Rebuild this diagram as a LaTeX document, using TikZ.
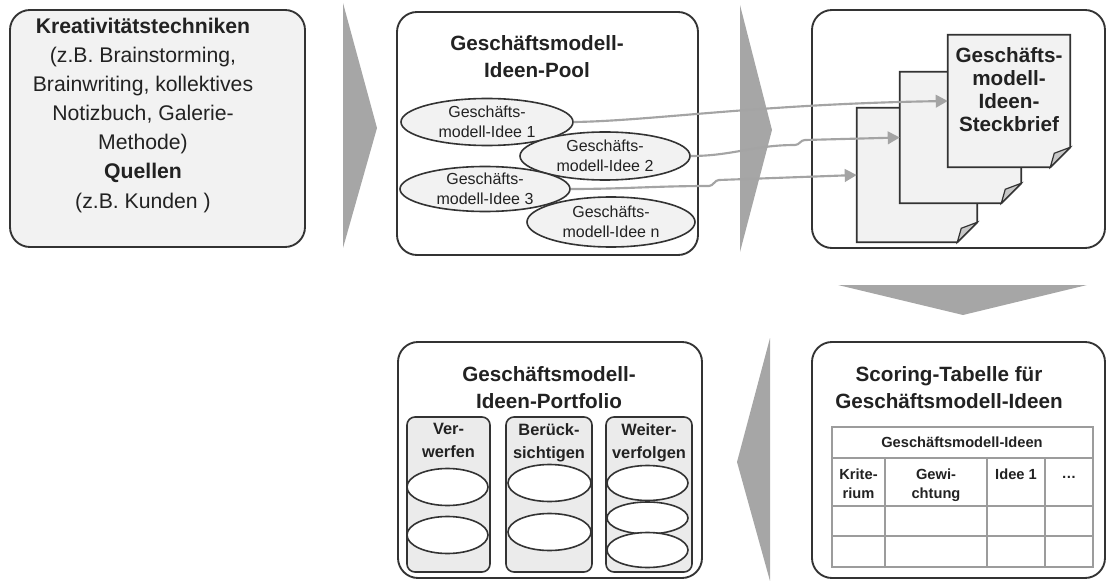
\documentclass[tikz,border=0pt]{standalone}
\usepackage{fontspec}
\setmainfont{Liberation Sans}
\usetikzlibrary{arrows.meta,shapes.geometric}

\def\upx{0.75pt}
\definecolor{edge}{HTML}{333333}
\definecolor{ink}{HTML}{222222}
\definecolor{paper}{HTML}{F2F2F2}
\definecolor{column}{HTML}{EBEBEB}
\definecolor{chev}{HTML}{A6A6A6}
\definecolor{link}{HTML}{A4A4A4}
\definecolor{fold}{HTML}{C8C8C8}
\definecolor{grid}{HTML}{9C9C9C}

% outline of a sheet with a dog-eared lower right corner
\newcommand\sheetoutline[1]{%
  \filldraw[sheetline] (#1.north west) -- (#1.north east)
    -- ([yshift=15pt]#1.south east) -- ([xshift=-15pt]#1.south east)
    -- (#1.south west) -- cycle;
  \filldraw[sheetline, line width=0.9pt, fill=fold] ([yshift=15pt]#1.south east)
    -- ([xshift=-15pt]#1.south east) -- ([xshift=-12pt,yshift=10.5pt]#1.south east) -- cycle;
}

\begin{document}
\begin{tikzpicture}[x=0.75pt,y=-0.75pt,
  every node/.style={text=ink},
  panel/.style={draw=edge, line width=1.4pt, rounded corners=15pt, fill=white, inner sep=0pt},
  chevron/.style={fill=chev, draw=none},
  sheet/.style={draw=none, inner sep=0pt},
  sheetline/.style={draw=edge, line width=1.3pt, fill=paper, line join=miter},
  idea/.style={ellipse, draw=edge, line width=1.2pt, fill=paper, inner sep=0pt, align=center,
    font=\fontsize{12}{15}\selectfont},
  slot/.style={ellipse, draw=edge, line width=1.2pt, fill=white, inner sep=0pt},
  lane/.style={draw=edge, line width=1.2pt, fill=column, rounded corners=6pt, inner sep=0pt},
  link/.style={draw=link, line width=1.6pt, -{Triangle[length=9pt,width=9.5pt]}},
  heading/.style={inner sep=0pt, anchor=north, align=center, font=\bfseries\fontsize{15.5}{20.25}\selectfont},
  lanehead/.style={inner sep=0pt, anchor=north, align=center, font=\bfseries\fontsize{12.3}{17.25}\selectfont},
  cell/.style={inner sep=0pt, align=center, font=\bfseries\fontsize{11}{14.25}\selectfont},
  gridline/.style={draw=grid, line width=1.6pt}
]
\useasboundingbox (0,0) rectangle (1107,581);

% ---------- panels ----------
\node[panel, fill=paper, minimum width=295*\upx, minimum height=237*\upx] (sources) at (157.5,128.5) {};
\node[panel, minimum width=301*\upx, minimum height=243*\upx] (pool) at (547.5,133.5) {};
\node[panel, minimum width=293*\upx, minimum height=238*\upx] (profiles) at (958.5,129) {};
\node[panel, minimum width=293*\upx, minimum height=236*\upx] (scoring) at (958.5,460) {};
\node[panel, minimum width=304*\upx, minimum height=236*\upx] (portfolio) at (550,460) {};

% ---------- process chevrons ----------
\fill[chevron] (343,3) -- (377,128) -- (343,248) -- cycle;
\fill[chevron] (740,5) -- (772,130) -- (740,252) -- cycle;
\fill[chevron] (838,285) -- (1087,285) -- (963,315) -- cycle;
\fill[chevron] (770,338) -- (737,462) -- (770,581) -- cycle;

% ---------- sources ----------
\node[inner sep=0pt, anchor=north, align=center, font=\fontsize{15.9}{21.8}\selectfont] (sourcetext) at (143,18)
  {\textbf{Kreativitätstechniken}\\(z.B. Brainstorming,\\Brainwriting, kollektives\\Notizbuch, Galerie-\\Methode)\\\textbf{Quellen}\\(z.B. Kunden )};

% ---------- idea pool ----------
\node[heading] (pooltitle) at (537,35) {Geschäftsmodell-\\Ideen-Pool};
\node[idea, minimum width=172*\upx, minimum height=47*\upx] (e1) at (487,122) {Geschäfts-\\modell-Idee 1};
\node[idea, minimum width=170*\upx, minimum height=48*\upx] (e2) at (605,156) {Geschäfts-\\modell-Idee 2};
\node[idea, minimum width=170*\upx, minimum height=45*\upx] (e3) at (485,189) {Geschäfts-\\modell-Idee 3};
\node[idea, minimum width=168*\upx, minimum height=50*\upx] (e4) at (611,222) {Geschäfts-\\modell-Idee n};

% ---------- idea profiles ----------
\node[sheet, minimum width=120*\upx, minimum height=134*\upx] (p1) at (917,175) {};
\node[sheet, minimum width=121*\upx, minimum height=131*\upx] (p2) at (960.5,137.5) {};
\node[sheet, minimum width=122*\upx, minimum height=132*\upx] (p3) at (1009,101) {};
\sheetoutline{p1}
\sheetoutline{p2}
\sheetoutline{p3}
\node[inner sep=0pt, anchor=north, align=center, font=\bfseries\fontsize{15.5}{17.2}\selectfont] (sheettext) at (1009,47)
  {Geschäfts-\\modell-\\Ideen-\\Steckbrief};

\draw[link] (e1.east) .. controls (650,121) and (760,104) .. (p3.west);
\draw[link] (e2.east) to[out=0,in=180] (795,145) to[out=0,in=180] (805,140) -- (p2.west);
\draw[link] (e3.east) to[out=0,in=180] (709,186) to[out=0,in=180] (719,180) -- (p1.west);

% ---------- scoring table ----------
\node[heading] (scoretitle) at (949,366) {Scoring-Tabelle für\\Geschäftsmodell-Ideen};
\draw[gridline] (832,427) rectangle (1093,567);
\draw[gridline] (832,458) -- (1093,458) (832,506) -- (1093,506) (832,536) -- (1093,536);
\draw[gridline] (885,458) -- (885,567) (987,458) -- (987,567) (1045,458) -- (1045,567);
\node[cell] (thead) at (962,442) {Geschäftsmodell-Ideen};
\node[cell, anchor=north] (tcrit) at (858.5,469) {Krite-\\rium};
\node[cell, anchor=north] (tweight) at (936,469) {Gewi-\\chtung};
\node[cell, anchor=north] (tidea) at (1016,469) {Idee 1};
\node[cell, anchor=base] (tmore) at (1069,478) {\dots};

% ---------- portfolio ----------
\node[heading] (portfoliotitle) at (549,366) {Geschäftsmodell-\\Ideen-Portfolio};
\node[lane, minimum width=83*\upx, minimum height=155*\upx] (reject) at (448.5,494.5) {};
\node[lane, minimum width=86*\upx, minimum height=155*\upx] (consider) at (549,494.5) {};
\node[lane, minimum width=86*\upx, minimum height=155*\upx] (pursue) at (649,494.5) {};
\node[lanehead] (rejecthead) at (448.5,423) {Ver-\\werfen};
\node[lanehead] (considerhead) at (549,423) {Berück-\\sichtigen};
\node[lanehead] (pursuehead) at (649,423) {Weiter-\\verfolgen};
\node[slot, minimum width=81*\upx, minimum height=37*\upx] (r1) at (447.5,487) {};
\node[slot, minimum width=81*\upx, minimum height=37*\upx] (r2) at (447.5,535) {};
\node[slot, minimum width=83*\upx, minimum height=37*\upx] (c1) at (549.5,483) {};
\node[slot, minimum width=83*\upx, minimum height=37*\upx] (c2) at (549.5,532) {};
\node[slot, minimum width=81*\upx, minimum height=35*\upx] (w1) at (647.5,483) {};
\node[slot, minimum width=81*\upx, minimum height=32*\upx] (w2) at (647.5,518) {};
\node[slot, minimum width=81*\upx, minimum height=35*\upx] (w3) at (647.5,550) {};
\end{tikzpicture}
\end{document}
